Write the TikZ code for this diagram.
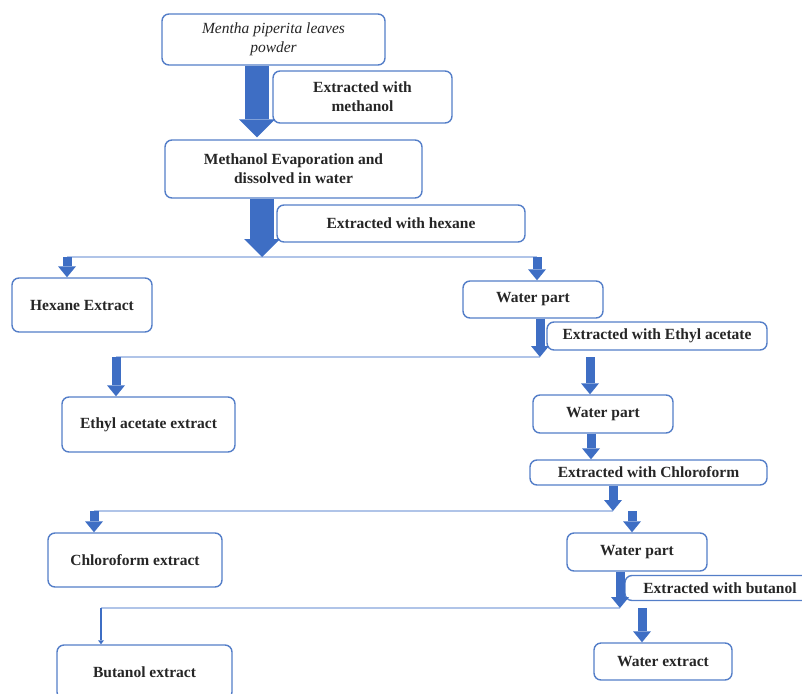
\documentclass[tikz,border=0pt]{standalone}
\usepackage{fontspec}
\setmainfont{Liberation Serif}
\usetikzlibrary{arrows.meta, calc}
\definecolor{frameblue}{RGB}{84, 126, 200}
\definecolor{flowblue}{RGB}{62, 110, 196}
\definecolor{splitblue}{RGB}{176, 196, 232}

\begin{document}
\begin{tikzpicture}[
        x=1pt, y=-1pt,
        box/.style={draw=frameblue, fill=white, line width=1.4pt, rounded corners=7pt, inner sep=2pt, align=center, text=black!85, font=\fontsize{15.5}{19}\selectfont\bfseries},
        bigarr/.style={-{Triangle[length=18pt, width=36pt, line width=0pt]}, line width=24pt, flowblue},
        arr/.style={-{Triangle[length=11pt, width=18pt, line width=0pt]}, line width=9pt, flowblue},
        thinarr/.style={-{Triangle[length=4pt, width=6pt, line width=0pt]}, line width=2.5pt, flowblue},
        split/.style={draw=splitblue, line width=2pt}
      ]
        \useasboundingbox (0,0) rectangle (802,693);
        \clip (0,0) rectangle (802,693);
        \node[box, minimum width=223pt, minimum height=51pt, font=\fontsize{15.5}{19}\selectfont\itshape] (powder) at (273.5,39.5) {Mentha piperita leaves\\powder};
        \node[box, minimum width=179pt, minimum height=52pt] (extmeth)  at (362.5,97)    {Extracted with\\methanol};
        \node[box, minimum width=257pt, minimum height=58pt] (evap)     at (293.5,169)   {Methanol Evaporation and\\dissolved in water};
        \node[box, minimum width=248pt, minimum height=37pt] (exthex)   at (401,223.5)   {Extracted with hexane};
        \node[box, minimum width=140pt, minimum height=54pt] (hexane)   at (82,305)      {Hexane Extract};
        \node[box, minimum width=140pt, minimum height=37pt] (water1)   at (533,299.5)   {Water part};
        \node[box, minimum width=220pt, minimum height=28pt] (extethyl) at (657,336)     {Extracted with Ethyl acetate};
        \node[box, minimum width=173pt, minimum height=55pt] (ethyl)    at (148.5,424.5) {Ethyl acetate extract};
        \node[box, minimum width=140pt, minimum height=38pt] (water2)   at (603,414)     {Water part};
        \node[box, minimum width=237pt, minimum height=25pt] (extchl)   at (648.5,472.5) {Extracted with Chloroform};
        \node[box, minimum width=174pt, minimum height=54pt] (chloro)   at (135,560)     {Chloroform extract};
        \node[box, minimum width=140pt, minimum height=38pt] (water3)   at (637,552)     {Water part};
        \node[box, minimum width=190pt, minimum height=25pt] (extbut)   at (720,588)     {Extracted with butanol};
        \node[box, minimum width=175pt, minimum height=54pt] (butanol)  at (144.5,672)   {Butanol extract};
        \node[box, minimum width=138pt, minimum height=37pt] (water4)   at (663,661.5)   {Water extract};
        \coordinate (s1l) at (67,257);
        \coordinate (s1r) at (537,257);
        \coordinate (s2l) at (116,357);
        \coordinate (s2m) at (540,357);
        \coordinate (s2r) at (590,357);
        \coordinate (s3l) at (94,511);
        \coordinate (s3m) at (613,511);
        \coordinate (s3r) at (632,511);
        \coordinate (s4l) at (101,608);
        \coordinate (s4m) at (620,608);
        \coordinate (s4r) at (642,608);
        \draw[split] (s1l) -- (s1r);
        \draw[split] (s2l) -- (s2m);
        \draw[split] (s3l) -- (s3m);
        \draw[split] (s4l) -- (s4m);
        \draw[bigarr, shorten >=2pt] ([xshift=-16.5pt]powder.south) -- ([xshift=-16.5pt]powder.south |- evap.north);
        \draw[bigarr] ([xshift=-31.5pt]evap.south) -- ([xshift=-31.5pt]evap.south |- s1l);
        \draw[arr] ([xshift=7pt]water1.south) -- (s2m);
        \draw[arr] ([xshift=-12pt]water2.south) -- ([xshift=-12pt]water2.south |- extchl.north);
        \draw[arr] ([xshift=-35.5pt]extchl.south) -- (s3m);
        \draw[arr] ([xshift=-17pt]water3.south) -- (s4m);
        \draw[arr] (s1l) -- (hexane.north -| s1l);
        \draw[arr] (s1r) -- (water1.north -| s1r);
        \draw[arr] (s2l) -- (ethyl.north -| s2l);
        \draw[arr] (s2r) -- (water2.north -| s2r);
        \draw[arr] (s3l) -- (chloro.north -| s3l);
        \draw[arr] (s3r) -- (water3.north -| s3r);
        \draw[thinarr] (s4l) -- (butanol.north -| s4l);
        \draw[arr] (s4r) -- (water4.north -| s4r);
      \end{tikzpicture}
\end{document}
